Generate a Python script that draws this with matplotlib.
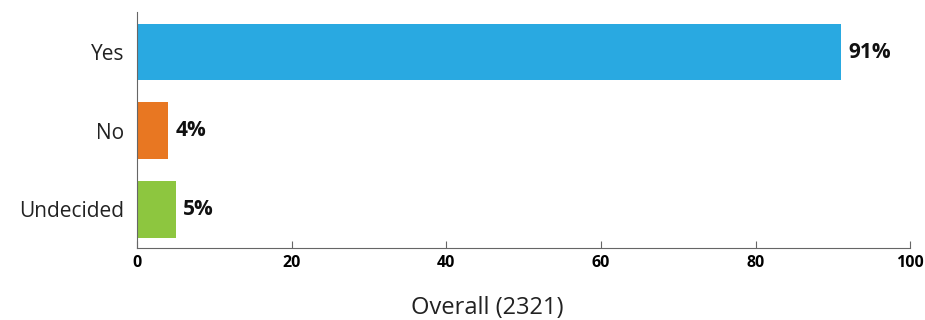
import matplotlib
matplotlib.use("Agg")
import matplotlib.pyplot as plt

categories = ["Yes", "No", "Undecided"]
values = [91, 4, 5]
labels = ["91%", "4%", "5%"]
colors = ["#29A9E1", "#E87722", "#8DC63F"]

plt.rcParams['font.family'] = ['Open Sans', 'DejaVu Sans']

fig = plt.figure(figsize=(9.25, 3.2), dpi=100)
ax = fig.add_axes([0.148, 0.225, 0.836, 0.7375])

ypos = list(range(len(categories)))
ax.barh(ypos, values, height=0.72, color=colors)
for y, v, t in zip(ypos, values, labels):
    ax.text(v + 1.0, y, t, va='center', ha='left', fontsize=15, fontweight='bold', color='#111111')

ax.set_xlim(0, 100)
ax.set_ylim(2.49, -0.51)
ax.set_yticks(ypos)
ax.set_yticklabels(categories, fontsize=15, color='#222222')
ax.set_xticks([0, 20, 40, 60, 80, 100])
ax.set_xticklabels(['0', '20', '40', '60', '80', '100'], fontsize=11.5, fontweight='bold')
ax.tick_params(axis='x', direction='in', length=5, color='#666666', pad=5)
ax.tick_params(axis='y', length=0, pad=9)
for s in ['top', 'right']:
    ax.spines[s].set_visible(False)
ax.spines['left'].set_color('#666666')
ax.spines['bottom'].set_color('#666666')
fig.text(487 / 925, 1 - 308 / 320, 'Overall (2321)', fontsize=17, color='#222222',
         ha='center', va='center')

fig.savefig('out.png', dpi=100)
